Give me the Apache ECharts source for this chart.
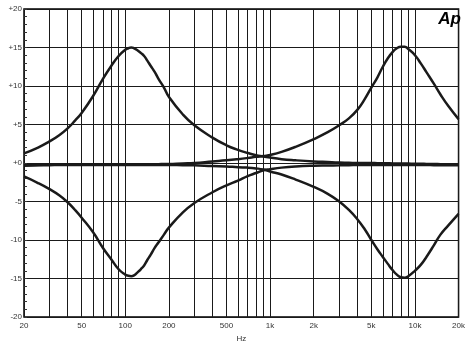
<!DOCTYPE html>
<html>
<head>
<meta charset="utf-8">
<script src="https://cdn.jsdelivr.net/npm/echarts@6/dist/echarts.min.js"></script>
<style>
html,body{margin:0;padding:0;background:#fff;}
#chart{width:468px;height:348px;}
</style>
</head>
<body>
<div id="chart"></div>
<script>
// Frequencies (Hz) at which the curves were read
const freqs = [20, 25, 30, 35, 40, 45, 50, 60, 70, 80, 90, 100, 105, 110, 115, 120, 128, 135, 142, 150, 160, 170, 185, 200, 250, 300, 400, 500, 600, 700, 800, 900, 1000, 1200, 1500, 2000, 2500, 3000, 3500, 4000, 4500, 5000, 5500, 6000, 6500, 7000, 7500, 8000, 8500, 9000, 10000, 11000, 12000, 13500, 15000, 17000, 20000];

// Low-frequency boost (dB)
const lfBoost = [1.25, 2.0, 2.8, 3.6, 4.5, 5.5, 6.5, 8.7, 10.9, 12.6, 13.9, 14.7, 14.9, 15.0, 14.9, 14.7, 14.3, 13.9, 13.3, 12.6, 11.8, 10.9, 9.8, 8.6, 6.3, 4.9, 3.3, 2.3, 1.7, 1.3, 1.0, 0.85, 0.7, 0.5, 0.35, 0.2, 0.12, 0.06, 0.03, 0.0, 0.0, 0.0, -0.02, -0.03, -0.04, -0.05, -0.05, -0.06, -0.07, -0.08, -0.1, -0.1, -0.12, -0.13, -0.15, -0.17, -0.2];

// Low-frequency cut (dB)
const lfCut = [-1.75, -2.6, -3.4, -4.2, -5.1, -6.1, -7.1, -9.0, -11.0, -12.5, -13.8, -14.5, -14.65, -14.7, -14.6, -14.3, -13.8, -13.3, -12.6, -11.9, -11.0, -10.3, -9.3, -8.4, -6.4, -5.2, -3.8, -2.9, -2.3, -1.7, -1.3, -0.95, -0.8, -0.6, -0.45, -0.35, -0.32, -0.3, -0.28, -0.27, -0.26, -0.25, -0.25, -0.25, -0.25, -0.25, -0.25, -0.25, -0.25, -0.26, -0.26, -0.27, -0.27, -0.28, -0.28, -0.29, -0.3];

// High-frequency boost (dB)
const hfBoost = [-0.3, -0.25, -0.22, -0.2, -0.2, -0.2, -0.2, -0.2, -0.2, -0.2, -0.2, -0.2, -0.2, -0.2, -0.2, -0.2, -0.19, -0.18, -0.18, -0.17, -0.16, -0.15, -0.13, -0.12, -0.05, 0.0, 0.2, 0.35, 0.5, 0.65, 0.8, 0.9, 1.05, 1.45, 2.1, 3.1, 4.0, 4.9, 5.8, 6.9, 8.3, 9.8, 11.1, 12.5, 13.6, 14.4, 14.9, 15.1, 15.1, 14.8, 14.0, 12.9, 11.8, 10.3, 8.9, 7.4, 5.7];

// High-frequency cut (dB)
const hfCut = [-0.35, -0.3, -0.28, -0.26, -0.25, -0.25, -0.25, -0.25, -0.25, -0.25, -0.25, -0.25, -0.25, -0.25, -0.25, -0.25, -0.25, -0.25, -0.25, -0.25, -0.25, -0.25, -0.25, -0.25, -0.28, -0.3, -0.4, -0.45, -0.55, -0.6, -0.7, -0.85, -1.1, -1.5, -2.15, -3.1, -4.0, -5.0, -6.1, -7.3, -8.6, -10.0, -11.2, -12.2, -13.1, -13.9, -14.5, -14.85, -14.9, -14.7, -14.0, -13.2, -12.2, -10.7, -9.3, -8.1, -6.6];

// Vertical grid positions and labelled frequencies
const gridFreqs = [20, 30, 40, 50, 60, 70, 80, 90, 100, 200, 300, 400, 500, 600, 700, 800, 900, 1000, 2000, 3000, 4000, 5000, 6000, 7000, 8000, 9000, 10000, 20000];
const labelFreqs = [20, 50, 100, 200, 500, 1000, 2000, 5000, 10000, 20000];

const curves = [lfBoost, lfCut, hfBoost, hfCut];

function fmtFreq(f) {
  f = Math.round(f);
  return f >= 1000 ? (f / 1000) + 'k' : String(f);
}

const chart = echarts.init(document.getElementById('chart'), null, {renderer: 'canvas'});
const lineColor = '#1a1a1a';
const font = '"Liberation Sans", Arial, sans-serif';

chart.setOption({
  animation: false,
  backgroundColor: '#fff',
  grid: {left: 24, right: 5, top: 9, bottom: 25, show: true, borderColor: '#000', borderWidth: 1.5},
  xAxis: {
    type: 'log',
    logBase: 10,
    min: 20,
    max: 20000,
    name: 'Hz',
    nameLocation: 'middle',
    nameGap: 18,
    nameTextStyle: {color: '#333', fontSize: 8, fontFamily: font},
    axisLine: {show: false},
    axisTick: {show: false, customValues: gridFreqs},
    minorTick: {show: false},
    axisLabel: {customValues: labelFreqs, formatter: fmtFreq, color: '#333', fontSize: 8, fontFamily: font, margin: 5},
    splitLine: {show: true, lineStyle: {color: lineColor, width: 1}}
  },
  yAxis: {
    type: 'value',
    min: -20,
    max: 20,
    interval: 5,
    axisLine: {show: false},
    axisTick: {show: true, inside: true, length: 3, lineStyle: {color: '#333'}},
    minorTick: {show: true, splitNumber: 5, length: 3, lineStyle: {color: '#333'}},
    axisLabel: {
      color: '#333', fontSize: 8, fontFamily: font, margin: 2,
      formatter: v => (v >= 0 ? '+' + v : String(v))
    },
    splitLine: {show: true, lineStyle: {color: lineColor, width: 1}}
  },
  graphic: [{
    type: 'text',
    right: 7,
    top: 11,
    z: 10,
    style: {text: 'Ap', font: 'italic bold 17px ' + font, fill: '#000'}
  }],
  series: curves.map(arr => ({
    type: 'line',
    data: freqs.map((f, i) => [f, arr[i]]),
    showSymbol: false,
    smooth: 0.5,
    lineStyle: {color: lineColor, width: 2.5},
    z: 5
  }))
});
</script>
</body>
</html>
